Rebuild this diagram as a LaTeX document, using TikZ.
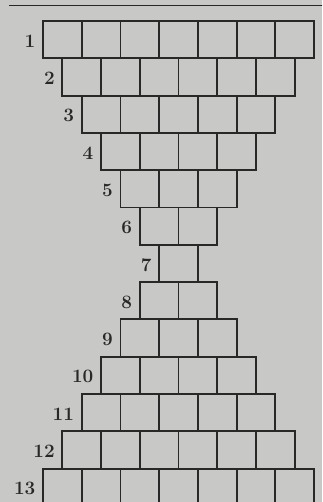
\documentclass[tikz,border=0pt]{standalone}
\definecolor{paper}{RGB}{200,200,198}
\definecolor{ink}{RGB}{40,40,40}
\tikzset{
  cell/.style={draw=ink, line width=1.9bp, minimum width=38.7bp, minimum height=37.3bp, inner sep=0pt, outer sep=0pt},
  lab/.style={text=ink, font=\fontsize{19}{21}\selectfont\bfseries, anchor=east, inner sep=0pt},
  rulestyle/.style={draw=ink, line width=1.9bp}
}
\begin{document}
\begin{tikzpicture}[x=1bp,y=-1bp]
\fill[paper] (0,0) rectangle (322,502);
\useasboundingbox (0,0) rectangle (322,502);
\clip (0,0) rectangle (322,502);
\coordinate (ruleL) at (9,5.5);
\coordinate (ruleR) at (323,5.5);
\draw[rulestyle] (ruleL) -- (ruleR);
\foreach \k in {1,...,13} {
  \pgfmathtruncatemacro{\ncells}{\k<8 ? 8-\k : \k-6}
  \pgfmathsetmacro{\rowtop}{21+(\k-1)*37.3}
  \pgfmathsetmacro{\rowleft}{178.5-\ncells*38.7/2}
  \foreach \c in {1,...,\ncells} {
    \node[cell] (r\k-\c) at ({\rowleft+(\c-0.5)*38.7}, {\rowtop+18.65}) {};
  }
  \node[lab] (lab\k) at ({\rowleft-7.5}, {\rowtop+18.65+1.5}) {\k};
}
\end{tikzpicture}
\end{document}
